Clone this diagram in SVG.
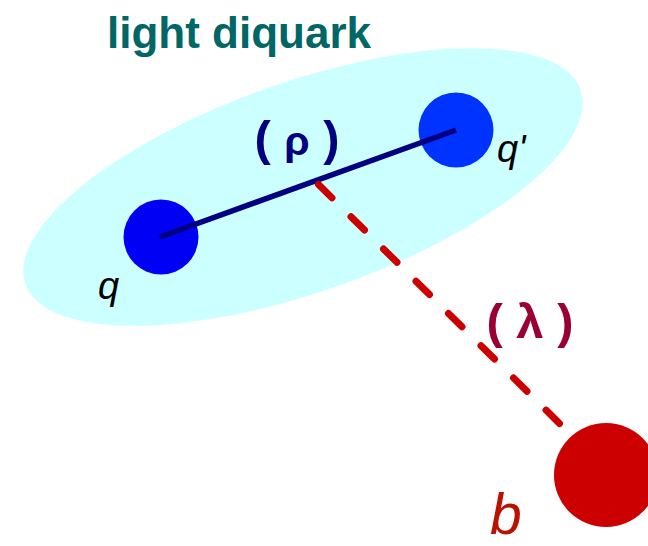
<svg xmlns="http://www.w3.org/2000/svg" width="648" height="546" viewBox="0 0 648 546">
<style>
.title{font-family:"Liberation Sans",Arial,sans-serif;font-weight:bold;font-size:44px;fill:#006666}
.lbl{font-family:"Liberation Sans",Arial,sans-serif;font-style:italic;font-size:38px;fill:#000000}
.par{font-family:"Liberation Sans",Arial,sans-serif;font-weight:bold;font-size:49px}
.b{font-family:"Liberation Sans",Arial,sans-serif;font-style:italic;font-size:57px;fill:#bb1100}
</style>
<rect width="648" height="546" fill="#ffffff"/>
<g id="diquark">
<ellipse cx="303" cy="187" rx="294" ry="105" fill="#ccffff" transform="rotate(-19.3 303 187)"/>
<text class="title" x="107" y="48">light diquark</text>
</g>
<g id="q">
<circle cx="161" cy="237" r="37.5" fill="#0000f5"/>
<text class="lbl" x="98" y="299">q</text>
</g>
<g id="qprime">
<circle cx="456" cy="130" r="37.5" fill="#0033ff"/>
<text class="lbl" x="497" y="162">q'</text>
</g>
<g id="b">
<circle cx="606" cy="475" r="52" fill="#cc0000"/>
<text class="b" x="490" y="534">b</text>
</g>
<g id="connectors">
<line x1="160" y1="237" x2="456" y2="130" stroke="#000080" stroke-width="5.5"/>
<line x1="318.5" y1="184.5" x2="559.5" y2="423.5" stroke="#cc0000" stroke-width="7" stroke-linecap="round" stroke-dasharray="19 26.77"/>
<text class="par" x="297" y="155" text-anchor="middle" fill="#000080">( <tspan font-size="41">ρ</tspan> )</text>
<text class="par" x="530" y="338" text-anchor="middle" fill="#990033">( λ )</text>
</g>
</svg>
